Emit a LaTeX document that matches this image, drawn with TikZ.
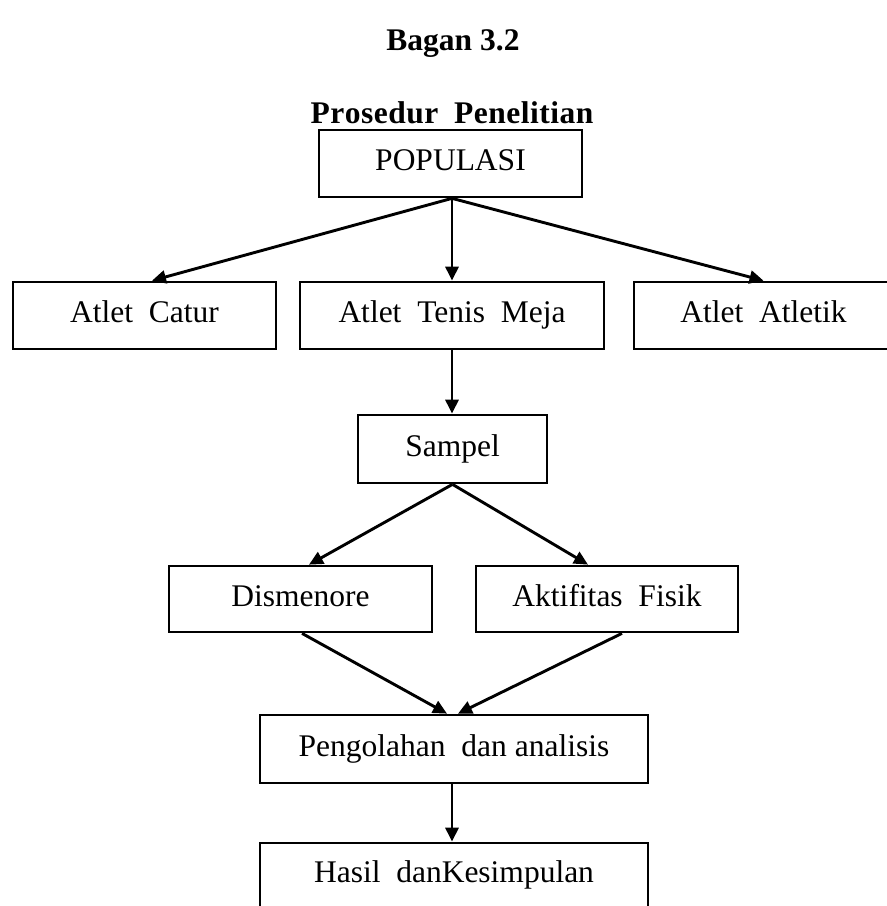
\documentclass[tikz,border=0pt]{standalone}
\usepackage{fontspec}
\setmainfont{Liberation Serif}
\usetikzlibrary{arrows.meta}
\begin{document}
\begin{tikzpicture}[x=1pt,y=-1pt,
  box/.style={draw,line width=2.7pt,rectangle,inner sep=0pt,minimum height=67pt,
    text height=21pt,text depth=7pt,
    font=\fontsize{31.5}{36}\selectfont},
  ttl/.style={inner sep=0pt,font=\fontsize{31.5}{36}\selectfont\bfseries},
  arr/.style={line width=2.9pt,-{Triangle[length=14pt,width=13pt]}}]
\useasboundingbox (0,0) rectangle (887,906);
\clip (0,0) rectangle (887,906);
\node[ttl] (t1) at (453,44) {Bagan 3.2};
\node[ttl] (t2) at (452,113) {P\kern0.5pt r\kern0.5pt o\kern0.5pt s\kern0.5pt e\kern0.5pt d\kern0.5pt u\kern0.5pt r\ \ P\kern0.5pt e\kern0.5pt n\kern0.5pt e\kern0.5pt l\kern0.5pt i\kern0.5pt t\kern0.5pt i\kern0.5pt a\kern0.5pt n};
\node[box,minimum width=263pt] (pop) at (450.5,163.5) {POPULASI};
\node[box,minimum width=263pt] (catur) at (144.5,315.5) {Atlet\ \ Catur};
\node[box,minimum width=304pt] (tenis) at (452,315.5) {Atlet\ \ Tenis\ \ Meja};
\node[box,minimum width=259pt] (atletik) at (763.5,315.5) {Atlet\ \ Atletik};
\node[box,minimum width=189pt,minimum height=68pt] (sampel) at (452.5,449) {Sampel};
\node[box,minimum width=263pt,minimum height=66pt] (dism) at (300.5,599) {Dismenore};
\node[box,minimum width=262pt,minimum height=66pt] (akt) at (607,599) {Aktifitas\ \ Fisik};
\node[box,minimum width=388pt,minimum height=68pt] (peng) at (454,749) {Pengolahan\ \ dan analisis};
\node[box,minimum width=388pt,minimum height=72pt,text depth=15pt] (hasil) at (454,879) {Hasil\ \ danKesimpulan};
\draw[arr] ([xshift=1.5pt]pop.south) -- ([xshift=7.5pt]catur.north);
\draw[arr] ([xshift=1.5pt]pop.south) -- (tenis.north);
\draw[arr] ([xshift=1.5pt]pop.south) -- (atletik.north);
\draw[arr] (tenis.south) -- (tenis.south |- sampel.north);
\draw[arr] (sampel.south) -- ([xshift=8.5pt]dism.north);
\draw[arr] (sampel.south) -- ([xshift=-19pt]akt.north);
\draw[arr] ([xshift=1.5pt]dism.south) -- ([xshift=-7pt]peng.north);
\draw[arr] ([xshift=15pt]akt.south) -- ([xshift=4pt]peng.north);
\draw[arr] ([xshift=-2pt]peng.south) -- ([xshift=-2pt]hasil.north);
\end{tikzpicture}
\end{document}
